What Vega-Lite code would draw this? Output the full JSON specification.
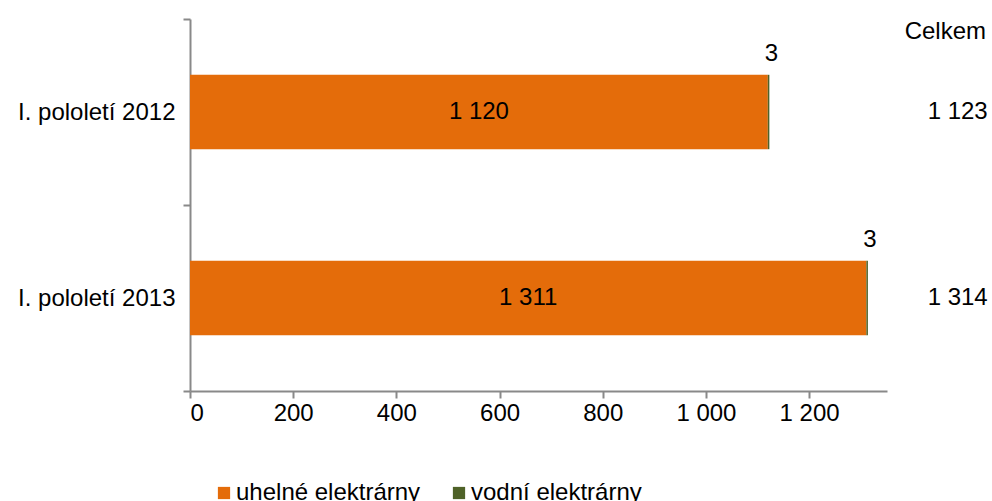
{
  "$schema": "https://vega.github.io/schema/vega-lite/v6.json",
  "width": 697,
  "height": 372,
  "autosize": {"type": "none"},
  "padding": {"left": 190, "top": 19, "right": 105, "bottom": 110},
  "background": "white",
  "config": {
    "font": "Liberation Sans",
    "view": {"stroke": null},
    "locale": {"number": {"decimal": ",", "thousands": " ", "grouping": [3], "currency": ["", " Kč"]}},
    "axis": {
      "labelFont": "Liberation Sans",
      "labelFontSize": 24,
      "labelColor": "#000000",
      "domainColor": "#898989",
      "tickColor": "#898989",
      "domainWidth": 2,
      "tickWidth": 2,
      "tickSize": 7,
      "grid": false,
      "title": null
    },
    "text": {"font": "Liberation Sans", "fontSize": 24, "color": "#000000"}
  },
  "datasets": {
    "parts": [
      {"period": "I. pololetí 2012", "series": "uhelné elektrárny", "value": 1120},
      {"period": "I. pololetí 2012", "series": "vodní elektrárny", "value": 3},
      {"period": "I. pololetí 2013", "series": "uhelné elektrárny", "value": 1311},
      {"period": "I. pololetí 2013", "series": "vodní elektrárny", "value": 3}
    ],
    "totals": [
      {"period": "I. pololetí 2012", "total": 1123, "hydro": 3},
      {"period": "I. pololetí 2013", "total": 1314, "hydro": 3}
    ],
    "header": [{"label": "Celkem"}]
  },
  "layer": [
    {
      "data": {"name": "parts"},
      "mark": {"type": "bar", "height": {"band": 0.4}},
      "encoding": {
        "y": {
          "field": "period", "type": "nominal", "sort": null,
          "scale": {"paddingInner": 0, "paddingOuter": 0},
          "axis": {"tickBand": "extent", "labelPadding": 8}
        },
        "x": {
          "field": "value", "type": "quantitative", "stack": "zero",
          "scale": {"domain": [0, 1351], "nice": false},
          "axis": {"values": [0, 200, 400, 600, 800, 1000, 1200], "format": ",d", "labelPadding": 3}
        },
        "color": {
          "field": "series", "type": "nominal",
          "scale": {"domain": ["uhelné elektrárny", "vodní elektrárny"], "range": ["#E46C0A", "#4F6228"]},
          "legend": {
            "orient": "none", "legendX": 22, "legendY": 462, "direction": "horizontal",
            "title": null, "symbolType": "square", "symbolSize": 150, "symbolStrokeWidth": 0,
            "labelFontSize": 24, "labelFont": "Liberation Sans", "labelColor": "#000000",
            "labelOffset": 0, "columnPadding": 26, "labelLimit": 400
          }
        }
      }
    },
    {
      "data": {"name": "parts"},
      "transform": [{"filter": "datum.series === 'uhelné elektrárny'"}],
      "mark": {"type": "text", "align": "center", "baseline": "middle"},
      "encoding": {
        "y": {"field": "period", "type": "nominal", "sort": null},
        "x": {"field": "value", "type": "quantitative", "stack": "zero", "bandPosition": 0.5},
        "text": {"field": "value", "type": "quantitative", "format": ",d"}
      }
    },
    {
      "data": {"name": "totals"},
      "mark": {"type": "text", "align": "center", "baseline": "middle", "dx": 2, "dy": -58},
      "encoding": {
        "y": {"field": "period", "type": "nominal", "sort": null},
        "x": {"field": "total", "type": "quantitative"},
        "text": {"field": "hydro", "type": "quantitative", "format": ",d"}
      }
    },
    {
      "data": {"name": "totals"},
      "mark": {"type": "text", "align": "center", "baseline": "middle"},
      "encoding": {
        "y": {"field": "period", "type": "nominal", "sort": null},
        "x": {"datum": 1488, "type": "quantitative"},
        "text": {"field": "total", "type": "quantitative", "format": ",d"}
      }
    },
    {
      "data": {"name": "header"},
      "mark": {"type": "text", "align": "center", "baseline": "middle", "dy": -80},
      "encoding": {
        "y": {"datum": "I. pololetí 2012", "type": "nominal"},
        "x": {"datum": 1464, "type": "quantitative"},
        "text": {"field": "label", "type": "nominal"}
      }
    }
  ]
}
